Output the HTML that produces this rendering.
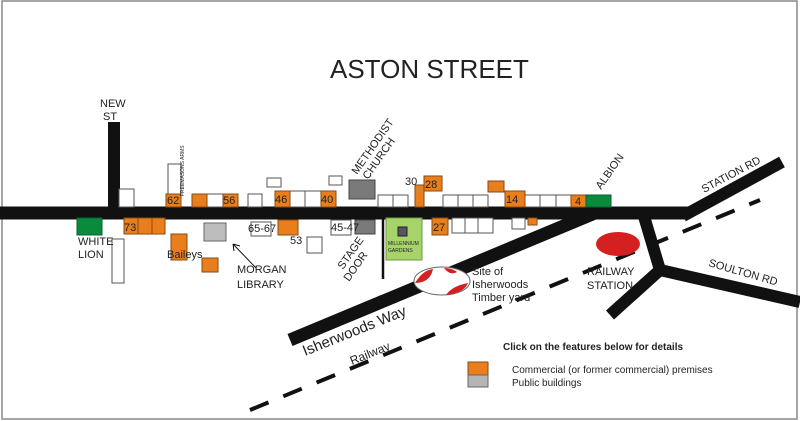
<!DOCTYPE html>
<html><head><style>html,body{margin:0;padding:0;background:#fff}svg{display:block}text{font-family:"Liberation Sans",sans-serif;fill:#222}</style></head>
<body>
<svg width="800" height="421" viewBox="0 0 800 421" xmlns="http://www.w3.org/2000/svg">
<rect x="2" y="1" width="795" height="418" fill="#fff" stroke="#888" stroke-width="1.5"/>
<text x="330" y="78" font-size="26">ASTON STREET</text>
<line x1="250" y1="410" x2="760" y2="200" stroke="#111" stroke-width="4" stroke-dasharray="20,16"/>
<g stroke="#111" stroke-linecap="butt">
<line x1="0" y1="213" x2="688" y2="213" stroke-width="13"/>
<line x1="114" y1="122" x2="114" y2="213" stroke-width="12"/>
<line x1="683" y1="216" x2="782" y2="162" stroke-width="12"/>
<line x1="290" y1="340" x2="595" y2="213" stroke-width="13"/>
<polyline points="643,213 660,270 610,315" fill="none" stroke-width="12"/>
<line x1="660" y1="270" x2="800" y2="302" stroke-width="12"/>
<line x1="383" y1="219" x2="383" y2="279" stroke-width="2.5"/>
</g>
<g stroke="#555" stroke-width="1" fill="#fff">
<rect x="119" y="189" width="15" height="18"/>
<rect x="168" y="164" width="13" height="30"/>
<rect x="207" y="194" width="16" height="13"/>
<rect x="248" y="194" width="14" height="13"/>
<rect x="267" y="178" width="14" height="9"/>
<rect x="290" y="191" width="15" height="16"/>
<rect x="305" y="191" width="16" height="16"/>
<rect x="329" y="176" width="13" height="9"/>
<rect x="378" y="195" width="15" height="12"/>
<rect x="393" y="195" width="15" height="12"/>
<rect x="443" y="195" width="15" height="12"/>
<rect x="458" y="195" width="15" height="12"/>
<rect x="473" y="195" width="15" height="12"/>
<rect x="525" y="195" width="15" height="12"/>
<rect x="540" y="195" width="16" height="12"/>
<rect x="556" y="195" width="15" height="12"/>
<rect x="112" y="239" width="12" height="44"/>
<rect x="251" y="222" width="20" height="14"/>
<rect x="307" y="237" width="15" height="16"/>
<rect x="331" y="220" width="20" height="15"/>
<rect x="452" y="218" width="13" height="15"/>
<rect x="465" y="218" width="13" height="15"/>
<rect x="478" y="218" width="15" height="15"/>
<rect x="512" y="218" width="13" height="11"/>
</g>
<g stroke="#8a4a10" stroke-width="1" fill="#e87e1c">
<rect x="166" y="194" width="15" height="13"/>
<rect x="192" y="194" width="15" height="13"/>
<rect x="223" y="194" width="15" height="13"/>
<rect x="275" y="191" width="15" height="16"/>
<rect x="321" y="191" width="15" height="16"/>
<rect x="415" y="185" width="9" height="22"/>
<rect x="424" y="176" width="18" height="15"/>
<rect x="488" y="181" width="16" height="11"/>
<rect x="505" y="191" width="20" height="16"/>
<rect x="571" y="195" width="15" height="12"/>
<rect x="124" y="218" width="14" height="16"/>
<rect x="138" y="218" width="14" height="16"/>
<rect x="152" y="218" width="13" height="16"/>
<rect x="171" y="234" width="16" height="26"/>
<rect x="202" y="258" width="16" height="14"/>
<rect x="278" y="220" width="20" height="15"/>
<rect x="432" y="218" width="16" height="17"/>
<rect x="528" y="218" width="9" height="7"/>
<rect x="468" y="362" width="20" height="13"/>
</g>
<g stroke="#444" stroke-width="1" fill="#7a7a7a">
<rect x="349" y="180" width="26" height="19"/>
<rect x="355" y="220" width="20" height="14"/>
</g>
<rect x="204" y="223" width="22" height="18" fill="#bdbdbd" stroke="#666"/>
<rect x="468" y="375" width="20" height="12" fill="#b5b5b5" stroke="#666"/>
<rect x="77" y="218" width="25" height="17" fill="#0a8a3c" stroke="#063"/>
<rect x="586" y="195" width="25" height="12" fill="#0a8a3c" stroke="#063"/>
<rect x="386" y="218" width="36" height="42" fill="#a6d46a" stroke="#6a9a40"/>
<rect x="398" y="227" width="9" height="9" fill="#556" stroke="#222"/>
<ellipse cx="618" cy="244" rx="22" ry="12" fill="#d42020"/>
<ellipse cx="442" cy="281" rx="28" ry="14" fill="#fff" stroke="#666"/>
<path d="M415,283 Q423,270 433,269 Q430,283 415,283Z M446,295 Q452,286 468,283 Q464,293 446,295Z M444,268 Q452,268 457,272 Q450,276 444,268Z" fill="#d42020"/>
<g font-size="11">
<text x="100" y="107">NEW</text><text x="103" y="120">ST</text>
<text x="78" y="245">WHITE</text><text x="78" y="258">LION</text>
<text x="124" y="231">73</text>
<text x="167" y="204">62</text>
<text x="223" y="204">56</text>
<text x="275" y="203">46</text>
<text x="321" y="203">40</text>
<text x="248" y="232">65-67</text>
<text x="290" y="244">53</text>
<text x="331" y="231">45-47</text>
<text x="167" y="258">Baileys</text>
<text x="237" y="273">MORGAN</text><text x="237" y="288">LIBRARY</text>
<text x="405" y="185">30</text>
<text x="425" y="188">28</text>
<text x="433" y="231">27</text>
<text x="506" y="203">14</text>
<text x="575" y="205">4</text>
<text x="472" y="275">Site of</text><text x="472" y="288">Isherwoods</text><text x="472" y="301">Timber yard</text>
<text x="587" y="275">RAILWAY</text><text x="587" y="289">STATION</text>
<text transform="translate(357,175) rotate(-55)">METHODIST</text>
<text transform="translate(368,180) rotate(-55)">CHURCH</text>
<text transform="translate(343,270) rotate(-55)">STAGE</text>
<text transform="translate(349,282) rotate(-55)">DOOR</text>
<text transform="translate(601,190) rotate(-55)">ALBION</text>
<text transform="translate(704,193) rotate(-28)">STATION RD</text>
<text transform="translate(708,266) rotate(16)">SOULTON RD</text>
</g>
<text transform="translate(184,196) rotate(-90)" font-size="5">FREEMASONS ARMS</text>
<text x="388" y="245" font-size="5">MILLENNIUM</text><text x="388" y="252" font-size="5">GARDENS</text>
<path d="M256,268 L233,244 M233,244 l1,7 M233,244 l7,2" stroke="#111" fill="none"/>
<text transform="translate(305,356) rotate(-22)" font-size="15">Isherwoods Way</text>
<text transform="translate(352,365) rotate(-22)" font-size="12">Railway</text>
<text x="503" y="350" font-size="10" font-weight="bold">Click on the features below for details</text>
<text x="512" y="373" font-size="10">Commercial (or former commercial) premises</text>
<text x="512" y="386" font-size="10">Public buildings</text>
</svg>
</body></html>
